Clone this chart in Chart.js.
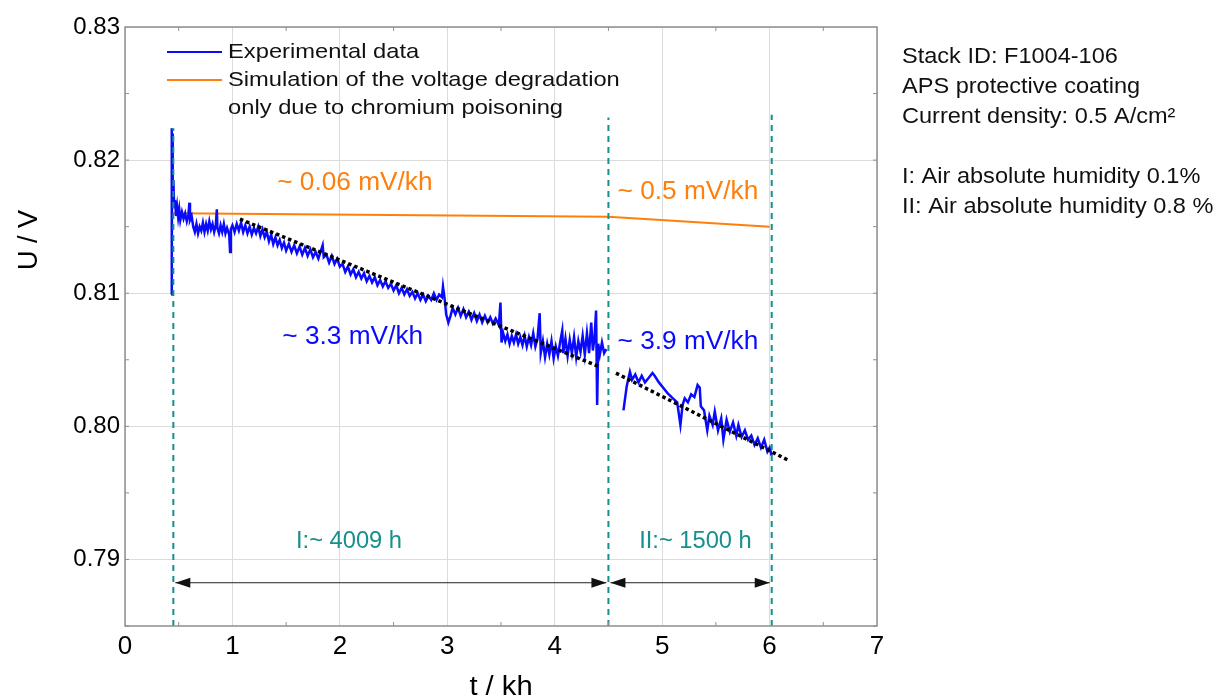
<!DOCTYPE html>
<html>
<head>
<meta charset="utf-8">
<title>F1004-106 voltage over time</title>
<script src="https://cdn.jsdelivr.net/npm/chart.js@4.4.0/dist/chart.umd.min.js"></script>
<style>
  html, body { margin: 0; padding: 0; background: #fff; }
</style>
</head>
<body>
<canvas id="voltageChart" width="1220" height="699"></canvas>
<script>
// measured stack voltage, [t in kh, U in V]; phase I (dry air) and phase II (humid air)
const expPhaseI = [
  [0.430, 0.8099], [0.434, 0.8224], [0.437, 0.8130], [0.440, 0.8220], [0.444, 0.8175],
  [0.450, 0.8185], [0.458, 0.8164], [0.466, 0.8170], [0.475, 0.8158], [0.485, 0.8165],
  [0.495, 0.8157], [0.505, 0.8163], [0.515, 0.8155], [0.530, 0.8161], [0.545, 0.8156],
  [0.560, 0.8160], [0.575, 0.8154], [0.590, 0.8159], [0.600, 0.8168], [0.605, 0.8155],
  [0.620, 0.8158], [0.635, 0.8150], [0.650, 0.8146], [0.665, 0.8152], [0.680, 0.8145],
  [0.695, 0.8150], [0.710, 0.8147], [0.725, 0.8153], [0.740, 0.8146], [0.755, 0.8152],
  [0.770, 0.8147], [0.785, 0.8154], [0.800, 0.8148], [0.815, 0.8152], [0.830, 0.8146],
  [0.845, 0.8151], [0.855, 0.8163], [0.860, 0.8149], [0.875, 0.8145], [0.890, 0.8151],
  [0.905, 0.8146], [0.920, 0.8152], [0.935, 0.8145], [0.950, 0.8149], [0.970, 0.8144],
  [0.978, 0.8131], [0.985, 0.8148], [1.000, 0.8151], [1.020, 0.8146], [1.040, 0.8152],
  [1.060, 0.8147], [1.080, 0.8153], [1.100, 0.8146], [1.120, 0.8151], [1.140, 0.8145],
  [1.160, 0.8150], [1.180, 0.8144], [1.200, 0.8149], [1.220, 0.8145], [1.240, 0.8150],
  [1.260, 0.8143], [1.280, 0.8148], [1.300, 0.8142], [1.320, 0.8146], [1.340, 0.8139],
  [1.360, 0.8144], [1.380, 0.8137], [1.400, 0.8142], [1.420, 0.8136], [1.440, 0.8140],
  [1.460, 0.8134], [1.480, 0.8138], [1.500, 0.8132], [1.525, 0.8137], [1.550, 0.8131],
  [1.575, 0.8136], [1.600, 0.8130], [1.625, 0.8135], [1.650, 0.8129], [1.675, 0.8134],
  [1.700, 0.8128], [1.725, 0.8133], [1.750, 0.8127], [1.775, 0.8131], [1.800, 0.8126],
  [1.840, 0.8136], [1.850, 0.8127], [1.875, 0.8129], [1.900, 0.8123], [1.925, 0.8128],
  [1.950, 0.8122], [1.975, 0.8126], [2.000, 0.8120], [2.025, 0.8122], [2.050, 0.8116],
  [2.075, 0.8120], [2.100, 0.8114], [2.125, 0.8118], [2.150, 0.8112], [2.175, 0.8116],
  [2.200, 0.8111], [2.225, 0.8115], [2.250, 0.8109], [2.275, 0.8113], [2.300, 0.8108],
  [2.325, 0.8112], [2.350, 0.8106], [2.375, 0.8110], [2.400, 0.8105], [2.425, 0.8109],
  [2.450, 0.8104], [2.475, 0.8107], [2.500, 0.8102], [2.525, 0.8106], [2.550, 0.8100],
  [2.575, 0.8104], [2.600, 0.8099], [2.625, 0.8103], [2.650, 0.8098], [2.675, 0.8101],
  [2.700, 0.8096], [2.725, 0.8100], [2.750, 0.8095], [2.775, 0.8099], [2.800, 0.8094],
  [2.825, 0.8098], [2.850, 0.8095], [2.875, 0.8100], [2.900, 0.8095], [2.925, 0.8099],
  [2.950, 0.8097], [2.960, 0.8105], [2.975, 0.8096], [2.990, 0.8084], [3.010, 0.8078],
  [3.030, 0.8083], [3.050, 0.8089], [3.075, 0.8084], [3.100, 0.8089], [3.125, 0.8083],
  [3.150, 0.8088], [3.175, 0.8082], [3.200, 0.8086], [3.225, 0.8080], [3.250, 0.8085],
  [3.275, 0.8079], [3.300, 0.8084], [3.325, 0.8078], [3.350, 0.8083], [3.375, 0.8078],
  [3.400, 0.8082], [3.425, 0.8077], [3.450, 0.8081], [3.480, 0.8076], [3.495, 0.8093],
  [3.505, 0.8063], [3.520, 0.8070], [3.540, 0.8064], [3.560, 0.8069], [3.580, 0.8062],
  [3.600, 0.8068], [3.620, 0.8063], [3.640, 0.8069], [3.660, 0.8062], [3.680, 0.8067],
  [3.700, 0.8061], [3.720, 0.8068], [3.740, 0.8060], [3.760, 0.8067], [3.780, 0.8061],
  [3.800, 0.8070], [3.820, 0.8060], [3.840, 0.8066], [3.860, 0.8085], [3.870, 0.8055],
  [3.890, 0.8064], [3.910, 0.8052], [3.930, 0.8062], [3.950, 0.8054], [3.970, 0.8064],
  [3.990, 0.8051], [4.010, 0.8060], [4.030, 0.8053], [4.050, 0.8063], [4.070, 0.8072],
  [4.080, 0.8055], [4.100, 0.8066], [4.120, 0.8053], [4.140, 0.8065], [4.160, 0.8055],
  [4.180, 0.8067], [4.200, 0.8052], [4.220, 0.8064], [4.240, 0.8056], [4.260, 0.8068],
  [4.280, 0.8054], [4.300, 0.8070], [4.320, 0.8055], [4.340, 0.8078], [4.355, 0.8057],
  [4.370, 0.8066], [4.385, 0.8087], [4.395, 0.8016], [4.405, 0.8062], [4.420, 0.8054],
  [4.440, 0.8063], [4.460, 0.8055], [4.480, 0.8058]
];
const expPhaseII = [
  [4.640, 0.8012], [4.670, 0.8030], [4.700, 0.8041], [4.720, 0.8035], [4.750, 0.8039],
  [4.780, 0.8033], [4.810, 0.8038], [4.840, 0.8033], [4.870, 0.8036], [4.910, 0.8040],
  [4.930, 0.8038], [4.970, 0.8033], [5.010, 0.8029], [5.050, 0.8025], [5.100, 0.8021],
  [5.140, 0.8018], [5.170, 0.8001], [5.190, 0.8016], [5.210, 0.8021], [5.240, 0.8018],
  [5.270, 0.8024], [5.300, 0.8022], [5.330, 0.8031], [5.350, 0.8029], [5.360, 0.8015],
  [5.390, 0.8012], [5.420, 0.7997], [5.440, 0.8008], [5.470, 0.8001], [5.490, 0.8011],
  [5.520, 0.7997], [5.550, 0.8006], [5.570, 0.7990], [5.600, 0.8005], [5.630, 0.7996],
  [5.660, 0.8003], [5.690, 0.7993], [5.710, 0.8001], [5.740, 0.7992], [5.770, 0.7997],
  [5.800, 0.7990], [5.830, 0.7993], [5.860, 0.7986], [5.890, 0.7991], [5.920, 0.7984],
  [5.950, 0.7990], [5.980, 0.7981], [6.000, 0.7984], [6.020, 0.7978]
];

// chromium poisoning simulation
const simTime = [0.45, 4.5, 6.0];
const simVoltage = [0.8160, 0.81575, 0.8150];

// linear fits per phase
const fitTimeI = [1.07, 4.42];
const fitVoltageI = [0.81557, 0.80446];
const fitTimeII = [4.57, 6.19];
const fitVoltageII = [0.80400, 0.79739];

// phase boundaries (kh) and how high each marker reaches (V)
const phaseBounds = [0.45, 4.5, 6.02];
const phaseTops = [0.8224, 0.8232, 0.8234];
const phaseNames = ['I:~ 4009 h', 'II:~ 1500 h'];

const rateNames = ['~ 0.06 mV/kh', '~ 0.5 mV/kh', '~ 3.3 mV/kh', '~ 3.9 mV/kh'];
const infoLines = ['Stack ID: F1004-106', 'APS protective coating', 'Current density: 0.5 A/cm\u00B2',
  'I: Air absolute humidity 0.1%', 'II: Air absolute humidity 0.8 %'];
const legendNames = ['Experimental data', 'Simulation of the voltage degradation', 'only due to chromium poisoning'];

const xTicks = [0, 1, 2, 3, 4, 5, 6, 7];
const yTicks = [0.79, 0.80, 0.81, 0.82, 0.83];

const FONT = "'Liberation Sans', Arial, sans-serif";
const BLUE = '#0a0aff';
const ORANGE = '#ff7f0e';
const TEAL = '#178f8c';

function toPoints(xs, ys) {
  return xs.map((x, i) => ({ x: x, y: ys[i] }));
}

const expPoints = expPhaseI.map(p => ({ x: p[0], y: p[1] }))
  .concat([{ x: 4.56, y: null }])
  .concat(expPhaseII.map(p => ({ x: p[0], y: p[1] })));

// small helper: text with optional horizontal stretch / rotation
function putText(ctx, str, x, y, size, color, opts) {
  opts = opts || {};
  ctx.save();
  ctx.font = size + 'px ' + FONT;
  ctx.fillStyle = color;
  ctx.textAlign = opts.align || 'left';
  ctx.textBaseline = 'middle';
  ctx.translate(x, y);
  if (opts.rotate) ctx.rotate(opts.rotate);
  ctx.scale(opts.stretch || 1, 1);
  ctx.fillText(str, 0, 0);
  ctx.restore();
}

function arrowHead(ctx, x, y, dir) {
  ctx.beginPath();
  ctx.moveTo(x, y);
  ctx.lineTo(x - dir * 15, y - 5);
  ctx.lineTo(x - dir * 15, y + 5);
  ctx.closePath();
  ctx.fill();
}

const decorations = {
  id: 'decorations',
  afterDatasetsDraw(chart) {
    const ctx = chart.ctx;
    const area = chart.chartArea;
    const xs = chart.scales.x;
    const ys = chart.scales.y;

    // frame
    ctx.save();
    ctx.strokeStyle = '#8f8f8f';
    ctx.lineWidth = 1.5;
    ctx.strokeRect(area.left, area.top, area.right - area.left, area.bottom - area.top);

    // minor ticks pointing inwards
    ctx.lineWidth = 1;
    for (let t = 0.5; t < 7; t += 1) {
      const px = xs.getPixelForValue(t);
      ctx.beginPath();
      ctx.moveTo(px, area.bottom); ctx.lineTo(px, area.bottom - 4);
      ctx.moveTo(px, area.top); ctx.lineTo(px, area.top + 4);
      ctx.stroke();
    }
    for (let u = 0.785; u < 0.83; u += 0.005) {
      const py = ys.getPixelForValue(u);
      ctx.beginPath();
      ctx.moveTo(area.left, py); ctx.lineTo(area.left + 4, py);
      ctx.moveTo(area.right, py); ctx.lineTo(area.right - 4, py);
      ctx.stroke();
    }

    // duration arrows between phase boundaries
    ctx.strokeStyle = '#222';
    ctx.fillStyle = '#111';
    ctx.lineWidth = 1;
    const ay = ys.getPixelForValue(0.78825);
    for (let i = 0; i < phaseBounds.length - 1; i++) {
      const x1 = xs.getPixelForValue(phaseBounds[i]) + 2;
      const x2 = xs.getPixelForValue(phaseBounds[i + 1]) - 2;
      ctx.beginPath();
      ctx.moveTo(x1, ay); ctx.lineTo(x2, ay);
      ctx.stroke();
      arrowHead(ctx, x1, ay, -1);
      arrowHead(ctx, x2, ay, 1);
    }
    ctx.restore();

    // phase durations
    putText(ctx, phaseNames[0], xs.getPixelForValue(2.085), ys.getPixelForValue(0.79131), 23, TEAL, { align: 'center', stretch: 1.03 });
    putText(ctx, phaseNames[1], xs.getPixelForValue(5.31), ys.getPixelForValue(0.79131), 23, TEAL, { align: 'center', stretch: 1.03 });

    // degradation rates
    putText(ctx, rateNames[0], xs.getPixelForValue(2.14), ys.getPixelForValue(0.81826), 25, ORANGE, { align: 'center', stretch: 1.05 });
    putText(ctx, rateNames[1], xs.getPixelForValue(5.24), ys.getPixelForValue(0.81760), 25, ORANGE, { align: 'center', stretch: 1.05 });
    putText(ctx, rateNames[2], xs.getPixelForValue(2.12), ys.getPixelForValue(0.80671), 25, BLUE, { align: 'center', stretch: 1.05 });
    putText(ctx, rateNames[3], xs.getPixelForValue(5.24), ys.getPixelForValue(0.80633), 25, BLUE, { align: 'center', stretch: 1.05 });

    // legend
    const lx = area.left + 42;
    ctx.save();
    ctx.lineWidth = 2;
    ctx.strokeStyle = BLUE;
    ctx.beginPath(); ctx.moveTo(lx, 52); ctx.lineTo(lx + 55, 52); ctx.stroke();
    ctx.strokeStyle = ORANGE;
    ctx.beginPath(); ctx.moveTo(lx, 80); ctx.lineTo(lx + 55, 80); ctx.stroke();
    ctx.restore();
    legendNames.forEach((s, i) => putText(ctx, s, lx + 61, 52 + i * 28, 21, '#111', { stretch: 1.13 }));

    // stack info on the right
    const ix = area.right + 25;
    const iy = [57, 87, 117, 177, 207];
    infoLines.forEach((s, i) => putText(ctx, s, ix, iy[i], 22, '#111', { stretch: 1.07 }));

    // axis titles
    putText(ctx, 't / kh', (area.left + area.right) / 2, 688, 27, '#000', { align: 'center', stretch: 1.08 });
    putText(ctx, 'U / V', 30, 240, 27, '#000', { align: 'center', rotate: -Math.PI / 2 });
  }
};

const ctx = document.getElementById('voltageChart').getContext('2d');

const vlineSets = phaseBounds.map((b, i) => ({
  label: 'phase ' + i,
  data: toPoints([b, b], [0.785, phaseTops[i]]),
  borderColor: TEAL,
  borderWidth: 2,
  borderDash: [6, 5],
  pointRadius: 0
}));

const voltageChart = new Chart(ctx, {
  type: 'line',
  data: {
    datasets: [
      { label: 'fit I', data: toPoints(fitTimeI, fitVoltageI), borderColor: '#000', borderWidth: 3.5, borderDash: [3.5, 3], pointRadius: 0 },
      { label: 'fit II', data: toPoints(fitTimeII, fitVoltageII), borderColor: '#000', borderWidth: 3.5, borderDash: [3.5, 3], pointRadius: 0 },
      ...vlineSets,
      { label: legendNames[0], data: expPoints, borderColor: BLUE, borderWidth: 2.5, pointRadius: 0, spanGaps: false },
      { label: legendNames[1], data: toPoints(simTime, simVoltage), borderColor: ORANGE, borderWidth: 2, pointRadius: 0 }
    ]
  },
  options: {
    responsive: false,
    animation: false,
    devicePixelRatio: 1,
    layout: { padding: { top: 27, right: 343, bottom: 0, left: 0 } },
    elements: { line: { tension: 0 } },
    plugins: {
      legend: { display: false },
      tooltip: { enabled: false }
    },
    scales: {
      x: {
        type: 'linear',
        min: 0,
        max: 7,
        afterBuildTicks: s => { s.ticks = xTicks.map(v => ({ value: v })); },
        afterFit: s => { s.height = 73; },
        grid: { color: '#dcdcdc', drawTicks: false },
        border: { display: false },
        ticks: { color: '#000', padding: 5, font: { family: FONT, size: 26 }, maxRotation: 0, callback: v => String(v) }
      },
      y: {
        type: 'linear',
        min: 0.785,
        max: 0.83,
        afterBuildTicks: s => { s.ticks = yTicks.map(v => ({ value: v })); },
        afterFit: s => { s.width = 125; },
        grid: { color: '#dcdcdc', drawTicks: false },
        border: { display: false },
        ticks: { color: '#000', padding: 5, font: { family: FONT, size: 24 }, callback: v => v.toFixed(2) }
      }
    }
  },
  plugins: [decorations]
});
</script>
</body>
</html>
